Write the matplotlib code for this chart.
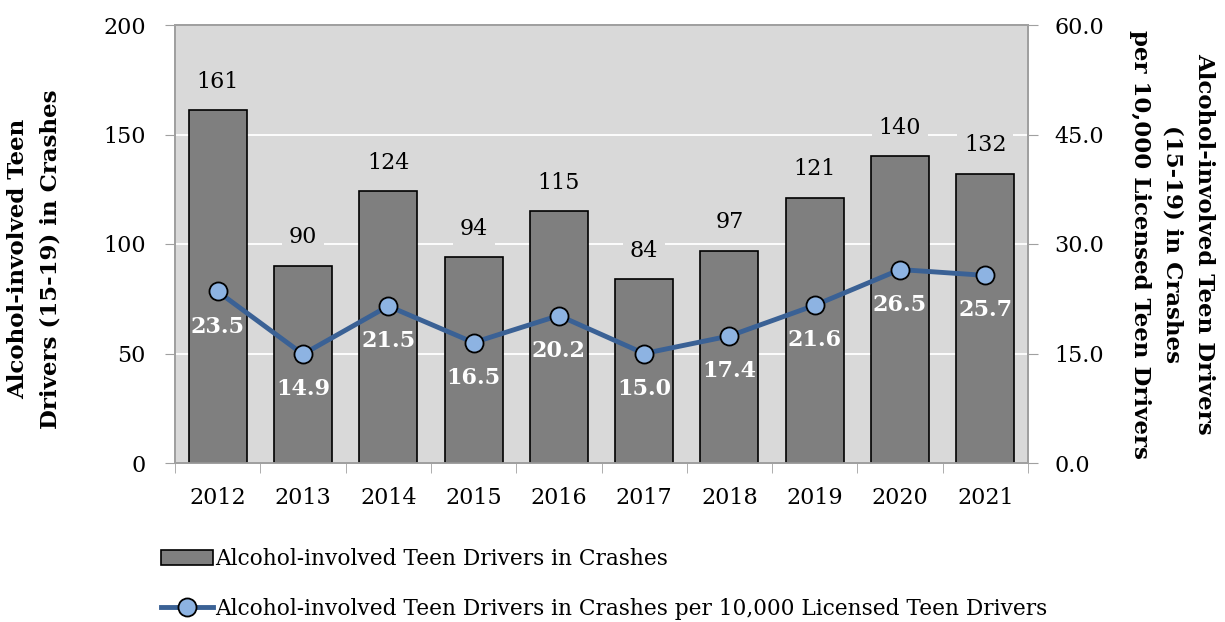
import matplotlib.pyplot as plt
import numpy as np

plt.rcParams['font.family'] = ['DejaVu Serif']

# data
years = ['2012', '2013', '2014', '2015', '2016', '2017', '2018', '2019', '2020', '2021']
crashes = [161, 90, 124, 94, 115, 84, 97, 121, 140, 132]
rate = [23.5, 14.9, 21.5, 16.5, 20.2, 15.0, 17.4, 21.6, 26.5, 25.7]

bar_label = 'Alcohol-involved Teen Drivers in Crashes'
line_label = 'Alcohol-involved Teen Drivers in Crashes per 10,000 Licensed Teen Drivers'

fs = 16
bfs = 16.5
bg = '#d9d9d9'

fig = plt.figure(figsize=(12.25, 6.22), dpi=100)
ax = fig.add_axes([175/1225, 1-463/622, (1028-175)/1225, (463-25)/622])
ax.set_facecolor(bg)

x = np.arange(len(years))
bars = ax.bar(x, crashes, width=0.68, color='#7f7f7f', edgecolor='black',
              linewidth=1.2, label=bar_label, zorder=3)
for xi, v in zip(x, crashes):
    ax.text(xi, v + 8, str(v), ha='center', va='bottom', fontsize=fs, zorder=4,
            bbox=dict(facecolor=bg, edgecolor='none', pad=5))

ax.set_ylim(0, 200)
ax.set_xlim(-0.5, len(years) - 0.5)
ax.set_yticks([0, 50, 100, 150, 200])
ax.yaxis.grid(True, color='white', linewidth=1.3, zorder=0)
ax.set_axisbelow(True)
ax.set_xticks(x)
ax.set_xticklabels(years)
ax.set_xticks(np.arange(-0.5, len(years)), minor=True)
ax.tick_params(axis='x', which='major', length=0, labelsize=fs, pad=17)
ax.tick_params(axis='x', which='minor', length=7, color='#a0a0a0', direction='out')
ax.tick_params(axis='y', length=7, color='#a0a0a0', labelsize=fs, pad=14)
for s in ax.spines.values():
    s.set_color('#a0a0a0')
    s.set_linewidth(1.3)
ax.set_ylabel('Alcohol-involved Teen\nDrivers (15-19) in Crashes', fontsize=bfs,
              fontweight='bold', labelpad=30, linespacing=1.6)
ax.yaxis.label.set_y(0.465)

ax2 = ax.twinx()
ax2.set_ylim(0, 60)
ax2.set_yticks([0, 15, 30, 45, 60])
ax2.set_yticklabels(['%.1f' % t for t in [0, 15, 30, 45, 60]])
ax2.tick_params(axis='y', length=7, color='#a0a0a0', labelsize=fs, pad=12)
for s in ax2.spines.values():
    s.set_color('#a0a0a0')
    s.set_linewidth(1.3)
line, = ax2.plot(x, rate, color='#3a6195', linewidth=3.5, marker='o', markersize=13,
                 markerfacecolor='#8db3e2', markeredgecolor='black', markeredgewidth=1.3,
                 label=line_label, zorder=4)
for xi, v in zip(x, rate):
    ax2.text(xi, v - 3.3, '%.1f' % v, ha='center', va='top', fontsize=fs,
             fontweight='bold', color='white')
ax2.set_ylabel('Alcohol-involved Teen Drivers\n(15-19) in Crashes\nper 10,000 Licensed Teen Drivers',
               fontsize=bfs, fontweight='bold', rotation=270, labelpad=80, linespacing=1.6)

fig.legend([bars, line], [bar_label, line_label], loc='center left',
           bbox_to_anchor=(150/1225, 1 - 584/622), frameon=False, fontsize=15.6,
           labelspacing=1.25, handlelength=2.4, handletextpad=0.1,
           borderpad=0, borderaxespad=0.5)

fig.savefig('out.png', dpi=100)
